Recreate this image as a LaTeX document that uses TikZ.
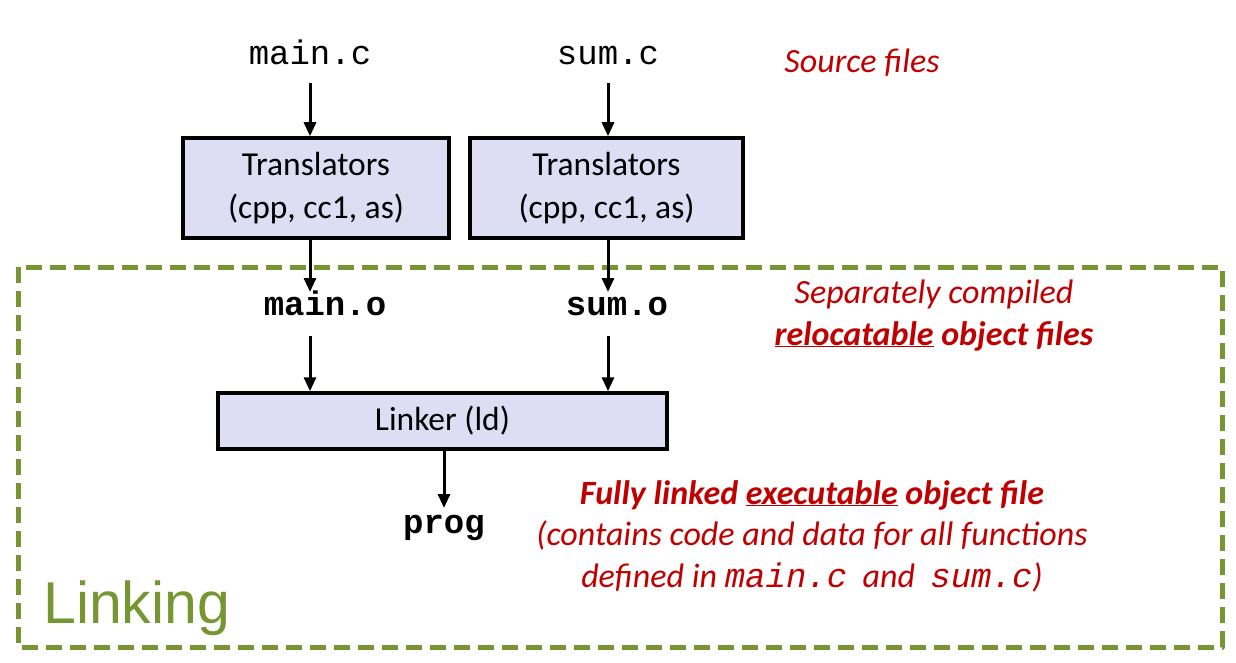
\documentclass[tikz,border=0pt]{standalone}
\usepackage{fontspec}
\usepackage{xcolor}
\usepackage{tikz}
\usetikzlibrary{calc,arrows.meta}

\newfontfamily\calibfont{Carlito}
\newfontfamily\courfont{Liberation Mono}
\newfontfamily\arialfont{Liberation Sans}

\definecolor{boxfill}{RGB}{221,221,243}
\definecolor{linkgreen}{RGB}{118,150,50}
\definecolor{notered}{RGB}{192,0,0}

\tikzset{
	trbox/.style={draw, line width=3.5pt, fill=boxfill, align=center, inner sep=0pt,
		font=\calibfont\fontsize{33.5}{43}\selectfont},
	srcfile/.style={anchor=base, inner sep=0pt, font=\courfont\fontsize{34}{34}\selectfont},
	objfile/.style={srcfile, font=\courfont\bfseries\fontsize{34}{34}\selectfont},
	note/.style={anchor=base, inner sep=0pt, align=center, text=notered,
		font=\calibfont\itshape\fontsize{34}{41.5}\selectfont},
	arr/.style={line width=3pt, -{Triangle[length=14pt,width=12pt]}}
}

\begin{document}
\begin{tikzpicture}[x=1pt,y=-1pt]
			\useasboundingbox (0,0) rectangle (1236,663);
			
			%linking
			\draw[linkgreen, line width=5pt, dash pattern=on 16pt off 8pt, line join=round] (18,267) rectangle (1222,647);
			\node[anchor=base west, inner sep=0pt, text=linkgreen, font=\arialfont\fontsize{59}{59}\selectfont] (linking) at (43,623) {Linking};
			
			%files and tools
			\node[srcfile] (mainc) at (310,65) {main.c};
			\node[srcfile] (sumc) at (608,65) {sum.c};
			\node[trbox, minimum width=266pt, minimum height=100pt] (transA) at (316,188) {Translators\\(cpp, cc1, as)};
			\node[trbox, minimum width=273pt, minimum height=100pt] (transB) at (606.5,188) {Translators\\(cpp, cc1, as)};
			\node[objfile] (maino) at (325,315) {main.o};
			\node[objfile] (sumo) at (617,315) {sum.o};
			\node[trbox, minimum width=449pt, minimum height=56pt] (linker) at (442.5,421) {Linker (ld)};
			\node[objfile] (prog) at (444,533) {prog};
			
			\foreach \src/\tr/\obj in {mainc/transA/maino, sumc/transB/sumo}
			{
				\draw[arr] ($(\src.base)+(0,18)$) -- (\src.base |- \tr.north);
				\draw[arr] (\src.base |- \tr.south) -- ($(\src.base |- \obj.base)+(0,-23)$);
				\draw[arr] ($(\src.base |- \obj.base)+(0,21)$) -- (\src.base |- linker.north);
			}
			\draw[arr] (prog.base |- linker.south) -- ($(prog.base)+(0,-25)$);
			
			%notes
			\node[note] (srcnote) at (862,73) {Source files};
			\node[note] (relnote) at (934,345) {Separately compiled\\{\bfseries\underline{relocatable} object files}};
			\node[note] (exenote) at (812,587) {{\bfseries Fully linked \underline{executable} object file}\\(contains code and data for all functions\\defined in {\courfont main.c} \ and \ {\courfont sum.c})};
		\end{tikzpicture}
\end{document}
